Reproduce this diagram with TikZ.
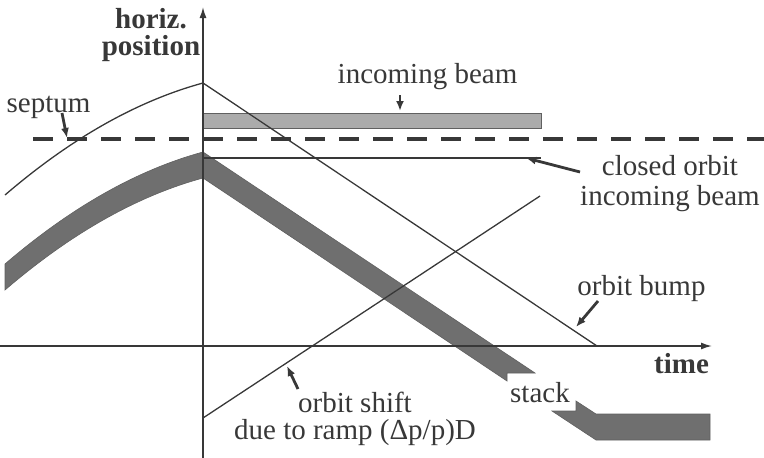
\documentclass[tikz,border=0pt]{standalone}
\usepackage{fontspec}
\setmainfont{Liberation Serif}
\usetikzlibrary{arrows.meta}
\definecolor{ink}{HTML}{383838}
\definecolor{lightbar}{HTML}{ABABAB}
\definecolor{darkband}{HTML}{6F6F6F}
\begin{document}
\begin{tikzpicture}[x=1pt,y=-1pt,
  thinline/.style={draw=ink, line width=1.3pt},
  bandstyle/.style={draw=ink!80, line width=0.6pt, fill=darkband},
  barstyle/.style={draw=ink!80, line width=0.8pt, fill=lightbar},
  lbl/.style={font=\fontsize{29}{30}\selectfont, text=ink, anchor=base, inner sep=0pt},
  blbl/.style={font=\fontsize{29}{30}\selectfont\bfseries, text=ink, anchor=base, inner sep=0pt},
  pointer/.style={draw=ink, line width=2.8pt, -{Latex[length=10pt,width=8pt]}},
  axisline/.style={draw=ink, line width=1.5pt, -{Latex[length=11pt,width=7pt]}},
  septumline/.style={draw=ink, line width=3.5pt, dash pattern=on 20pt off 14pt}]
\useasboundingbox (0,0) rectangle (764,458);

% stack band (first piece, with break)
\path[bandstyle] (5,264) .. controls (71,207.33) and (137,170) .. (203,152)
  -- (535,373) -- (507,373) -- (507,381) -- (203,178)
  .. controls (137,196) and (71,233.33) .. (5,290) -- cycle;
% stack band (second piece)
\path[bandstyle] (552,411) -- (576,411) -- (576,401) -- (596,414)
  -- (710,414) -- (710,440) -- (596,440) -- cycle;

% incoming beam bar
\path[barstyle] (203,113) rectangle (541,128);

% septum (dashed)
\coordinate (septL) at (33,139);
\coordinate (septR) at (764,139);
\draw[septumline] (septL) -- (septR);

% orbit bump curve and line
\coordinate (bumpL) at (5,195);
\coordinate (peak) at (203,83);
\coordinate (bumpEnd) at (597,346);
\draw[thinline] (bumpL) .. controls (71,138.33) and (137,101) .. (peak) -- (bumpEnd);

% closed orbit incoming beam
\coordinate (coL) at (203,158);
\coordinate (coR) at (541,158);
\draw[thinline] (coL) -- (coR);

% orbit shift line
\coordinate (shiftL) at (203,418);
\coordinate (shiftR) at (540,196);
\draw[thinline] (shiftL) -- (shiftR);

% axes
\coordinate (vbot) at (203,458);
\coordinate (vtop) at (203,7);
\coordinate (hleft) at (0,346);
\coordinate (hright) at (712,346);
\draw[axisline] (vbot) -- (vtop);
\draw[axisline] (hleft) -- (hright);

% labels
\node[blbl, align=center, font=\fontsize{29}{27}\selectfont\bfseries] (posn) at (151,55) {horiz.\\position};
\node[blbl] (time) at (681.5,373) {time};
\node[lbl] (septum) at (48.5,112) {septum};
\node[lbl] (incoming) at (427.5,83) {incoming beam};
\node[lbl, align=center, font=\fontsize{29}{30}\selectfont] (closed) at (670,205) {closed orbit\\incoming beam};
\node[lbl] (bump) at (641.5,295) {orbit bump};
\node[lbl] (stack) at (540,402) {stack};
\node[lbl, align=center, font=\fontsize{29}{27}\selectfont] (shift) at (355,439) {orbit shift\\due to ramp (Δp/p)D};

% pointers
\coordinate (septA) at (62,113);   \coordinate (septB) at (67,138);
\coordinate (incA) at (400,95);    \coordinate (incB) at (400,111);
\coordinate (coA) at (580,172);    \coordinate (coB) at (526,158);
\coordinate (bumpA) at (598,301);  \coordinate (bumpB) at (576,327);
\coordinate (shA) at (298,389);    \coordinate (shB) at (287,366);
\draw[pointer] (septA) -- (septB);
\draw[pointer] (incA) -- (incB);
\draw[pointer] (coA) -- (coB);
\draw[pointer] (bumpA) -- (bumpB);
\draw[pointer] (shA) -- (shB);
\end{tikzpicture}
\end{document}
